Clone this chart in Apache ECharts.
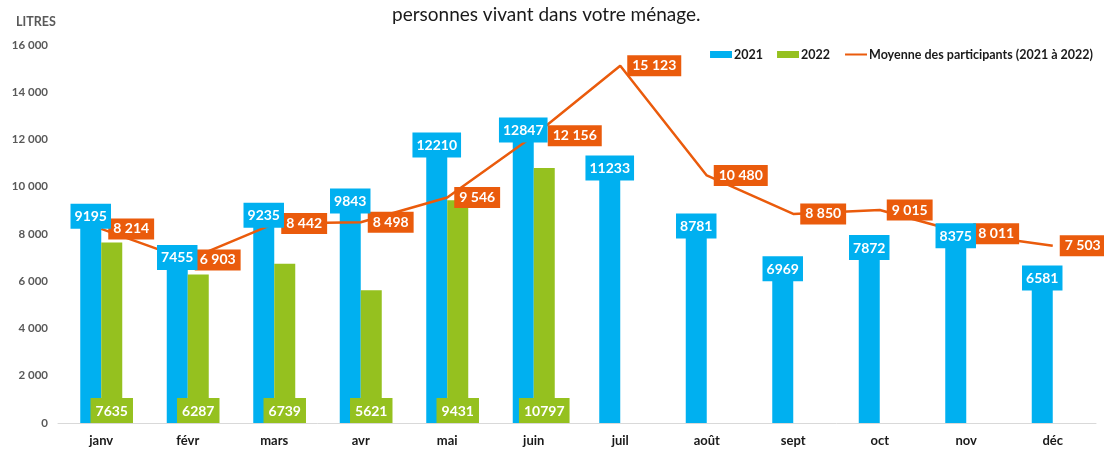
<!DOCTYPE html>
<html>
<head>
<meta charset="utf-8">
<script src="https://cdn.jsdelivr.net/npm/echarts@6/dist/echarts.min.js"></script>
<style>
  html, body { margin: 0; padding: 0; background: #fff; }
  #chart { width: 1104px; height: 451px; }
</style>
</head>
<body>
<div id="chart"></div>
<script>
var months = ['janv', 'févr', 'mars', 'avr', 'mai', 'juin', 'juil', 'août', 'sept', 'oct', 'nov', 'déc'];
var values2021 = [9195, 7455, 9235, 9843, 12210, 12847, 11233, 8781, 6969, 7872, 8375, 6581];
var values2022 = [7635, 6287, 6739, 5621, 9431, 10797, null, null, null, null, null, null];
var moyenne = [8214, 6903, 8442, 8498, 9546, 12156, 15123, 10480, 8850, 9015, 8011, 7503];

var BLUE = '#00B0F0';
var GREEN = '#95C11F';
var ORANGE = '#EA5B0C';
var FONT = 'Lato';
var LINE_NAME = 'Moyenne des participants (2021 à 2022)';

// 8214 -> "8 214"
function spaced(v) {
  return String(v).replace(/\B(?=(\d{3})+(?!\d))/g, ' ');
}

// the juin label is pushed a bit further right so it clears the 2021 label
var lineData = moyenne.map(function (v, i) {
  if (months[i] === 'juin') return { value: v, label: { offset: [7, 0] } };
  return v;
});

var barLabel = {
  show: true,
  color: '#fff',
  fontWeight: 'bold',
  fontSize: 14
};

var chart = echarts.init(document.getElementById('chart'));

var option = {
  animation: false,
  textStyle: { fontFamily: FONT },
  title: [{
    text: 'personnes vivant dans votre ménage.',
    left: 387,
    top: 0,
    textStyle: { fontSize: 19, fontWeight: 'normal', color: '#1a1a1a', fontFamily: FONT }
  }, {
    text: 'LITRES',
    left: 11,
    top: 10,
    textStyle: { fontSize: 12.5, fontWeight: 'bold', color: '#595959', fontFamily: FONT }
  }],
  legend: {
    right: 6,
    top: 43,
    itemGap: 14,
    itemWidth: 22,
    itemHeight: 7,
    textStyle: { fontSize: 12.5, fontWeight: 'bold', color: '#1a1a1a', fontFamily: FONT, padding: [0, 0, 0, -3] },
    data: [
      { name: '2021', icon: 'rect' },
      { name: '2022', icon: 'rect' },
      { name: LINE_NAME }
    ]
  },
  grid: { left: 58, right: 8, top: 45, bottom: 28 },
  xAxis: [{
    type: 'category',
    data: months,
    axisTick: { show: false },
    axisLine: { lineStyle: { color: '#d9d9d9', width: 1 } },
    axisLabel: { color: '#1a1a1a', fontWeight: 'bold', fontSize: 13, margin: 11 }
  }, {
    // same categories, only used to put the bar labels above the line
    type: 'category',
    data: months,
    show: false
  }],
  yAxis: {
    type: 'value',
    min: 0,
    max: 16000,
    interval: 2000,
    splitLine: { show: false },
    axisLine: { show: false },
    axisTick: { show: false },
    axisLabel: {
      color: '#595959', fontWeight: 'bold', fontSize: 11.5, margin: 10,
      formatter: function (v) { return spaced(v); }
    }
  },
  series: [{
    name: '2021',
    type: 'bar',
    data: values2021,
    barWidth: 21,
    barGap: '0%',
    itemStyle: { color: BLUE },
    z: 2
  }, {
    name: '2022',
    type: 'bar',
    data: values2022,
    barWidth: 21,
    barGap: '0%',
    itemStyle: { color: GREEN },
    z: 2
  }, {
    name: LINE_NAME,
    type: 'line',
    data: lineData,
    symbol: 'circle',
    symbolSize: 2,
    itemStyle: { color: ORANGE, opacity: 0 },
    lineStyle: { color: ORANGE, width: 2.5 },
    label: {
      show: true,
      opacity: 1,
      position: 'right',
      distance: 6,
      color: '#fff',
      fontWeight: 'bold',
      fontSize: 14,
      backgroundColor: ORANGE,
      padding: [4, 5, 3, 5],
      formatter: function (p) { return spaced(p.value); }
    },
    z: 5
  }, {
    name: '2021',
    type: 'bar',
    xAxisIndex: 1,
    data: values2021,
    barWidth: 21,
    barGap: '0%',
    itemStyle: { color: 'rgba(0,0,0,0)' },
    label: Object.assign({}, barLabel, {
      position: 'insideTop',
      distance: -2,
      backgroundColor: BLUE,
      padding: [6, 4, 5, 4]
    }),
    z: 10
  }, {
    name: '2022',
    type: 'bar',
    xAxisIndex: 1,
    data: values2022,
    barWidth: 21,
    barGap: '0%',
    itemStyle: { color: 'rgba(0,0,0,0)' },
    label: Object.assign({}, barLabel, {
      position: 'insideBottom',
      distance: 0,
      backgroundColor: GREEN,
      padding: [6, 5, 5, 5]
    }),
    z: 10
  }]
};

chart.setOption(option);
</script>
</body>
</html>
